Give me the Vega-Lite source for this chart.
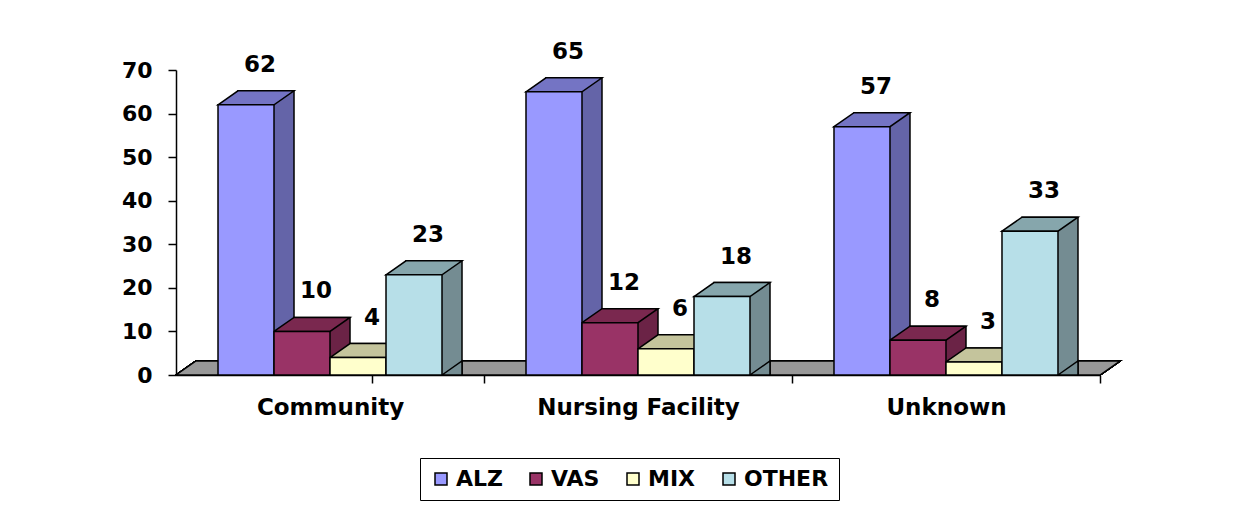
{
  "$schema": "https://vega.github.io/schema/vega-lite/v6.json",
  "width": 924,
  "height": 305,
  "autosize": {"type": "none"},
  "padding": {"left": 176, "top": 70, "right": 137, "bottom": 145},
  "background": "white",
  "config": {"view": {"stroke": null}, "font": "DejaVu Sans"},
  "data": {
    "values": [
      {"category": "Community", "series": "ALZ", "value": 62},
      {"category": "Community", "series": "VAS", "value": 10},
      {"category": "Community", "series": "MIX", "value": 4},
      {"category": "Community", "series": "OTHER", "value": 23},
      {"category": "Nursing Facility", "series": "ALZ", "value": 65},
      {"category": "Nursing Facility", "series": "VAS", "value": 12},
      {"category": "Nursing Facility", "series": "MIX", "value": 6},
      {"category": "Nursing Facility", "series": "OTHER", "value": 18},
      {"category": "Unknown", "series": "ALZ", "value": 57},
      {"category": "Unknown", "series": "VAS", "value": 8},
      {"category": "Unknown", "series": "MIX", "value": 3},
      {"category": "Unknown", "series": "OTHER", "value": 33}
    ]
  },
  "layer": [
    {
      "mark": {"type": "point", "shape": "M-0.924,0L-0.884,-0.028L0.964,-0.028L0.924,0Z", "size": 1000000, "fill": "#989898", "stroke": "black", "strokeWidth": 1.5, "opacity": 1, "fillOpacity": 1, "filled": true},
      "encoding": {
        "y": {"datum": 0, "type": "quantitative", "scale": {"domain": [0, 70], "nice": false}}
      }
    },
    {
      "mark": {"type": "bar", "yOffset": -14, "y2Offset": -14, "stroke": "black", "strokeWidth": 1.5, "opacity": 1},
      "encoding": {
        "x": {"field": "category", "type": "nominal", "sort": ["Community", "Nursing Facility", "Unknown"],
              "scale": {"paddingInner": 0.2727, "paddingOuter": 0.1364},
              "axis": {"title": null, "labelAngle": 0, "labelLimit": 0, "labelFont": "DejaVu Sans", "labelFontWeight": "bold", "labelFontSize": 23, "labelColor": "black", "domainColor": "black", "domainWidth": 1.5, "tickColor": "black", "tickWidth": 1.5, "tickSize": 8, "tickOffset": 154, "labelOffset": -154, "tickExtra": true, "labelPadding": 13}},
        "xOffset": {"field": "series", "type": "nominal", "sort": ["ALZ", "VAS", "MIX", "OTHER"], "scale": {"type": "band", "paddingInner": 0, "paddingOuter": 0, "range": [20, 244]}},
        "y": {"field": "value", "type": "quantitative", "stack": null, "scale": {"domain": [0, 70], "nice": false},
              "axis": {"title": null, "values": [0, 10, 20, 30, 40, 50, 60, 70], "grid": false, "labelFont": "DejaVu Sans", "labelFontSize": 22, "labelFontWeight": "bold", "labelColor": "black", "tickSize": 8, "labelPadding": 16, "domainColor": "black", "domainWidth": 1.5, "tickColor": "black", "tickWidth": 1.5}},
        "fill": {"field": "series", "type": "nominal", "legend": null,
                 "scale": {"domain": ["ALZ", "VAS", "MIX", "OTHER"], "range": ["#6464A8", "#6B2346", "#B4B48E", "#748C92"]}}
      }
    },
    {
      "mark": {"type": "point", "shape": "M0.56,0L0.96,-0.28L0.96,0Z", "size": 10000, "stroke": "black", "strokeWidth": 1.5, "opacity": 1, "fillOpacity": 1, "filled": true},
      "encoding": {
        "x": {"field": "category", "type": "nominal", "sort": ["Community", "Nursing Facility", "Unknown"]},
        "xOffset": {"field": "series", "type": "nominal", "sort": ["ALZ", "VAS", "MIX", "OTHER"], "scale": {"type": "band", "paddingInner": 0, "paddingOuter": 0}},
        "y": {"datum": 0, "type": "quantitative"},
        "fill": {"field": "series", "type": "nominal", "legend": null,
                 "scale": {"domain": ["ALZ", "VAS", "MIX", "OTHER"], "range": ["#6464A8", "#6B2346", "#B4B48E", "#748C92"]}}
      }
    },
    {
      "mark": {"type": "point", "shape": "M-0.56,0L-0.16,-0.28L0.96,-0.28L0.56,0Z", "size": 10000, "stroke": "black", "strokeWidth": 1.5, "opacity": 1, "fillOpacity": 1, "filled": true},
      "encoding": {
        "x": {"field": "category", "type": "nominal", "sort": ["Community", "Nursing Facility", "Unknown"]},
        "xOffset": {"field": "series", "type": "nominal", "sort": ["ALZ", "VAS", "MIX", "OTHER"], "scale": {"type": "band", "paddingInner": 0, "paddingOuter": 0}},
        "y": {"field": "value", "type": "quantitative", "stack": null},
        "fill": {"field": "series", "type": "nominal", "legend": null,
                 "scale": {"domain": ["ALZ", "VAS", "MIX", "OTHER"], "range": ["#7474C4", "#7A284F", "#C4C49C", "#86A6AC"]}}
      }
    },
    {
      "mark": {"type": "bar", "stroke": "black", "strokeWidth": 1.5, "opacity": 1},
      "encoding": {
        "x": {"field": "category", "type": "nominal", "sort": ["Community", "Nursing Facility", "Unknown"]},
        "xOffset": {"field": "series", "type": "nominal", "sort": ["ALZ", "VAS", "MIX", "OTHER"], "scale": {"type": "band", "paddingInner": 0, "paddingOuter": 0}},
        "y": {"field": "value", "type": "quantitative", "stack": null},
        "fill": {"field": "series", "type": "nominal",
                 "scale": {"domain": ["ALZ", "VAS", "MIX", "OTHER"], "range": ["#9999FF", "#993366", "#FFFFCC", "#B7DFE8"]},
                 "legend": {"title": null, "orient": "none", "legendX": 244, "legendY": 388, "direction": "horizontal",
                            "strokeColor": "black", "padding": 10, "columnPadding": 22, "labelFont": "DejaVu Sans", "labelFontSize": 22, "labelFontWeight": "bold", "labelColor": "black",
                            "symbolType": "square", "symbolSize": 144, "symbolStrokeColor": "black", "symbolStrokeWidth": 1.5, "labelOffset": 4}}
      }
    },
    {
      "mark": {"type": "text", "dx": 14, "dy": -40, "font": "DejaVu Sans", "fontSize": 23, "fontWeight": "bold", "color": "black"},
      "encoding": {
        "x": {"field": "category", "type": "nominal", "sort": ["Community", "Nursing Facility", "Unknown"]},
        "xOffset": {"field": "series", "type": "nominal", "sort": ["ALZ", "VAS", "MIX", "OTHER"], "scale": {"type": "band", "paddingInner": 0, "paddingOuter": 0}},
        "y": {"field": "value", "type": "quantitative", "stack": null},
        "text": {"field": "value", "type": "quantitative"}
      }
    }
  ],
  "resolve": {"scale": {"fill": "independent", "xOffset": "independent"}}
}
